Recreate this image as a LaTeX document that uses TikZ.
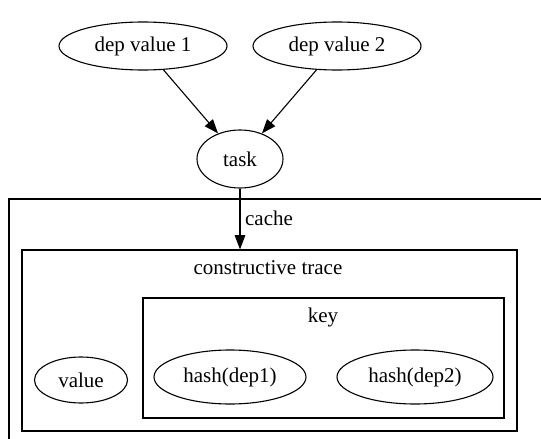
\documentclass[tikz,border=0pt]{standalone}
\usepackage{fontspec}
\setmainfont{Liberation Serif}
\usepackage{tikz}
\usetikzlibrary{positioning,arrows.meta,shapes.geometric}
\definecolor{ink}{RGB}{0,0,0}

\begin{document}
\begin{tikzpicture}[x=1pt, y=-1pt, font=\fontsize{21}{25}\selectfont,
  oval/.style={draw=ink, ellipse, line width=1.1pt, inner sep=0pt},
  cluster/.style={draw=ink, line width=1.1pt, inner sep=0pt},
  flow/.style={-{Triangle[length=0.5cm, width=0.37cm]}, line width=1.1pt, draw=ink}]
  \clip (0,0) rectangle (541,439);
  \node[oval, minimum width=168, minimum height=48] (dep1) at (143,46) {dep value 1};
  \node[oval, minimum width=168, minimum height=48] (dep2) at (337,46) {dep value 2};
  \node[oval, minimum width=86, minimum height=58] (task) at (240,159) {task};
  \node[cluster, minimum width=540, minimum height=250] (cache) at (279,324) {};
  \node (cachelabel) at (269,218) {cache};
  \node[cluster, minimum width=495, minimum height=181] (trace) at (269.5,340.5) {};
  \node (tracelabel) at (268,268) {constructive trace};
  \node[cluster, minimum width=361, minimum height=120] (key) at (323.5,358) {};
  \node (keylabel) at (323,317) {key};
  \node[oval, minimum width=93, minimum height=46] (value) at (81,380) {value};
  \node[oval, minimum width=152, minimum height=54] (hash1) at (230,377) {hash(dep1)};
  \node[oval, minimum width=156, minimum height=54] (hash2) at (415,377) {hash(dep2)};
  \draw[flow] (dep1) -- (task);
  \draw[flow] (dep2) -- (task);
  \draw[flow] (task.south) -- (task.south |- trace.north);
\end{tikzpicture}
\end{document}
